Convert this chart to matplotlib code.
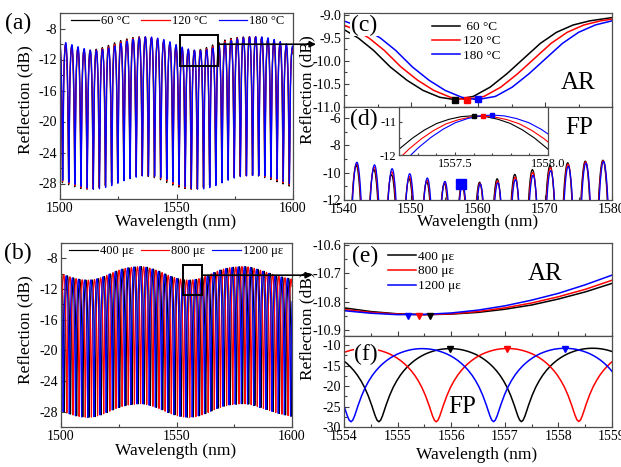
import numpy as np
import matplotlib
matplotlib.use('Agg')
import matplotlib.pyplot as plt
from matplotlib.patches import Rectangle, ConnectionPatch
from matplotlib.ticker import MultipleLocator, FormatStrFormatter

plt.rcParams['font.family'] = ['Liberation Serif', 'DejaVu Serif']
plt.rcParams['axes.unicode_minus'] = False

# ---------------- data ----------------
COLORS = ['black', 'red', 'blue']
TEMP_LABELS = ['60 °C', '120 °C', '180 °C']
STRAIN_LABELS = ['400 με', '800 με', '1200 με']

# AR envelope, 60 °C (wavelength nm, reflection dB); other temperatures shifted
ENV_T_WL = [1490, 1494, 1497, 1500, 1503, 1506, 1509, 1511, 1514, 1517, 1520, 1522,
            1525, 1528, 1531, 1533.5, 1536, 1538, 1540, 1542.1, 1544.4, 1546.9, 1549.4,
            1551.8, 1554.3, 1556.6, 1559.3, 1561.8, 1564.3, 1566.8, 1569.3, 1571.7,
            1574.2, 1576.7, 1580.0, 1582.0, 1585.0, 1588.0, 1591.0, 1594.0, 1597.0,
            1600.0, 1603.0]
ENV_T_DB = [-9.1, -9.35, -9.6, -9.9, -10.2, -10.5, -10.75, -10.84, -10.77, -10.57, -10.28,
            -10.0, -9.65, -9.38, -9.18, -9.05, -9.1, -9.2, -9.32, -9.50, -9.77, -10.13,
            -10.42, -10.64, -10.79, -10.84, -10.77, -10.57, -10.28, -9.95, -9.62, -9.38,
            -9.22, -9.13, -9.06, -9.05, -9.12, -9.35, -9.65, -9.98, -10.3, -10.6, -10.8]
ENV_T_SHIFT = [0.0, 1.6, 3.3]

# FP fringe peaks, 60 °C; other temperatures shifted
FP_T_PEAKS = [1497.11, 1499.74, 1502.37, 1505.00, 1507.63, 1510.26, 1512.89, 1515.52,
              1518.15, 1520.78, 1523.41, 1526.04, 1528.67, 1531.30, 1533.93, 1536.56,
              1539.19, 1541.82, 1544.45, 1547.08, 1549.71, 1552.34, 1554.97, 1557.60,
              1560.23, 1562.86, 1565.49, 1568.12, 1570.75, 1573.38, 1576.01, 1578.64,
              1581.27, 1583.90, 1586.53, 1589.16, 1591.79, 1594.42, 1597.05, 1599.68,
              1602.31]
FP_T_SHIFT = [0.0, 0.05, 0.10]

# AR envelope, 400 με
ENV_S_WL = [1494, 1497, 1500, 1503, 1506, 1509, 1511.8, 1514.5, 1517, 1519.5, 1522,
            1524.5, 1527, 1529.5, 1532, 1534.9, 1537.5, 1541.1, 1543.4, 1545.9, 1548.4,
            1550.8, 1553.3, 1555.6, 1558.3, 1560.8, 1563.3, 1565.8, 1568.3, 1570.7,
            1573.2, 1575.7, 1578.8, 1581.5, 1584, 1587, 1590, 1593, 1596, 1600, 1603]
ENV_S_DB = [-9.5, -9.7, -9.95, -10.3, -10.6, -10.78, -10.845, -10.77, -10.57, -10.28,
            -9.95, -9.62, -9.38, -9.22, -9.12, -9.06, -9.17, -9.50, -9.77, -10.13, -10.42,
            -10.64, -10.79, -10.845, -10.77, -10.57, -10.28, -9.95, -9.62, -9.38, -9.22,
            -9.13, -9.06, -9.12, -9.3, -9.6, -9.9, -10.2, -10.45, -10.7, -10.82]
ENV_S_SHIFT = [0.0, -0.2, -0.4]

# FP fringe peaks, 400 με; other strains shifted
FP_S_PEAKS = [1497.46, 1500.12, 1502.78, 1505.44, 1508.10, 1510.76, 1513.42, 1516.08,
              1518.74, 1521.40, 1524.06, 1526.72, 1529.38, 1532.04, 1534.70, 1537.36,
              1540.02, 1542.68, 1545.34, 1548.00, 1550.66, 1553.32, 1555.98, 1558.64,
              1561.30, 1563.96, 1566.62, 1569.28, 1571.94, 1574.60, 1577.26, 1579.92,
              1582.58, 1585.24, 1587.90, 1590.56, 1593.22, 1595.88, 1598.54, 1601.20]
FP_S_SHIFT = [0.0, 1.07, 2.14]

# fringe depth and fringe shape (fraction of half period -> fraction of depth), from (f)
FP_CONTRAST = 17.9
PROFILE_FRAC = [0, .05, .1, .15, .2, .25, .3, .35, .4, .45, .5, .55, .6, .65, .7, .75,
                .8, .85, .9, .925, .95, .975, 1.0]
PROFILE_DROP = [0, .0015, .006, .013, .024, .038, .055, .075, .100, .129, .163, .203,
                .249, .303, .366, .442, .532, .643, .776, .850, .922, .978, 1.0]

# markers
AR_T_MIN_WL = [1556.6, 1558.3, 1559.95]
AR_T_MIN_DB = [-10.84, -10.84, -10.83]
FP_T_PEAK_WL = [1557.6, 1557.65, 1557.7]
FP_T_PEAK_DB = [-10.83, -10.83, -10.79]
FP_T_MARK = (1557.5, -10.8)

# panel (e) AR curves
E_WL = [1554.0, 1554.5, 1555.0, 1555.5, 1556.0, 1556.5, 1557.0, 1557.5, 1558.0, 1558.5, 1559.0]
E_DB = [[-10.821, -10.834, -10.842, -10.845, -10.843, -10.837, -10.826, -10.811, -10.790, -10.765, -10.735],
        [-10.827, -10.837, -10.843, -10.845, -10.842, -10.834, -10.821, -10.804, -10.782, -10.756, -10.724],
        [-10.831, -10.840, -10.845, -10.844, -10.839, -10.829, -10.814, -10.794, -10.770, -10.740, -10.706]]
AR_S_MIN_WL = [1555.6, 1555.4, 1555.2]
AR_S_MIN_DB = [-10.848, -10.848, -10.848]
FP_S_PEAK_WL = [1555.98, 1557.05, 1558.12]
FP_S_PEAK_DB = [-10.95, -10.95, -10.95]

# zoom boxes
BOX_A = (1551.3, -12.84, 1567.8, -8.78)
BOX_B = (1553.0, -12.84, 1561.2, -8.86)


def fringe_curve(peaks, env_wl, env_db, env_shift):
    peaks = np.asarray(peaks, float)
    frac = np.asarray(PROFILE_FRAC)
    drop = np.asarray(PROFILE_DROP)
    tops = np.interp(peaks - env_shift, env_wl, env_db)
    xs, ys = [], []
    for i in range(len(peaks) - 1):
        p0, p1 = peaks[i], peaks[i + 1]
        half = (p1 - p0) / 2
        bottom = np.interp(p0 + half - env_shift, env_wl, env_db) - FP_CONTRAST
        t0, t1 = tops[i], tops[i + 1]
        xs.append(p0 + frac[:-1] * half)
        ys.append(t0 - drop[:-1] * (t0 - bottom))
        fr = frac[::-1][:-1]
        dr = drop[::-1][:-1]
        xs.append(p1 - fr * half)
        ys.append(t1 - dr * (t1 - bottom))
    xs.append([peaks[-1]])
    ys.append([tops[-1]])
    return np.concatenate(xs), np.concatenate(ys)


W, H = 621, 467
fig = plt.figure(figsize=(W / 100, H / 100), dpi=100)


def rect(l, t, r, b):
    return [l / W, 1 - b / H, (r - l) / W, (b - t) / H]


def fxy(x, y):
    return x / W, 1 - y / H


def style(ax, xmaj, xmin, ymaj, ymin, xlab=True, yfmt=None, xfmt=None, size=10):
    ax.xaxis.set_major_locator(MultipleLocator(xmaj))
    ax.xaxis.set_minor_locator(MultipleLocator(xmin))
    ax.yaxis.set_major_locator(MultipleLocator(ymaj))
    ax.yaxis.set_minor_locator(MultipleLocator(ymin))
    if yfmt:
        ax.yaxis.set_major_formatter(FormatStrFormatter(yfmt))
    if xfmt:
        ax.xaxis.set_major_formatter(FormatStrFormatter(xfmt))
    ax.tick_params(which='both', direction='in', top=False, right=False,
                   labelsize=size, color='0.25', width=0.8, pad=2)
    ax.tick_params(which='major', length=3.5)
    ax.tick_params(which='minor', length=2)
    if not xlab:
        ax.tick_params(labelbottom=False)
    for s in ax.spines.values():
        s.set_color('0.3')
        s.set_linewidth(0.9)


lab_box = dict(facecolor='white', edgecolor='none', pad=0.3)

temp_curves = [fringe_curve(np.asarray(FP_T_PEAKS) + FP_T_SHIFT[c], ENV_T_WL, ENV_T_DB, ENV_T_SHIFT[c])
               for c in range(3)]
strain_curves = [fringe_curve(np.asarray(FP_S_PEAKS) + FP_S_SHIFT[c], ENV_S_WL, ENV_S_DB, ENV_S_SHIFT[c])
                 for c in range(3)]

leg_kw = dict(loc='upper left', ncol=3, frameon=False, fontsize=9,
              handlelength=2.3, handletextpad=0.15,
              borderaxespad=0, borderpad=0.1)

# (a)
axa = fig.add_axes(rect(60, 13, 293, 199))
for c in range(3):
    axa.plot(*temp_curves[c], color=COLORS[c], lw=0.9, label=TEMP_LABELS[c])
axa.set_xlim(1500, 1600)
axa.set_ylim(-30, -6)
style(axa, 50, 25, 4, 2, yfmt='%d')
axa.add_patch(Rectangle((BOX_A[0], BOX_A[1]), BOX_A[2] - BOX_A[0], BOX_A[3] - BOX_A[1],
                        fill=False, ec='black', lw=1.4, zorder=5))
axa.legend(bbox_to_anchor=(0.04, 0.995), columnspacing=0.9, **leg_kw)

# (c)
axc = fig.add_axes(rect(344, 13, 612, 107))
for c in range(3):
    axc.plot(np.asarray(ENV_T_WL) + ENV_T_SHIFT[c], ENV_T_DB, color=COLORS[c], lw=1.1,
             label=(' ' + TEMP_LABELS[c]) if c == 0 else TEMP_LABELS[c])
    axc.plot(AR_T_MIN_WL[c], AR_T_MIN_DB[c], 's', color=COLORS[c], ms=4.5, zorder=4)
axc.set_xlim(1540, 1580)
axc.set_ylim(-11.0, -8.96)
style(axc, 10, 5, 0.5, 0.25, xlab=False, yfmt='%.1f')
axc.legend(loc='upper left', bbox_to_anchor=(0.325, 0.93), frameon=False, fontsize=9.5,
           handlelength=2.1, handletextpad=0.25, labelspacing=0.15,
           borderaxespad=0, borderpad=0.1)

# (d)
axd = fig.add_axes(rect(344, 107, 612, 200))
for c in range(3):
    axd.plot(*temp_curves[c], color=COLORS[c], lw=0.9)
axd.plot(*FP_T_MARK, 's', color='blue', ms=6.5, zorder=4)
axd.set_xlim(1540, 1580)
axd.set_ylim(-12, -5.2)
style(axd, 10, 5, 2, 1, yfmt='%d', xfmt='%d')

# inset of (d)
axi = fig.add_axes(rect(399, 107, 548, 155))
for c in range(3):
    axi.plot(*temp_curves[c], color=COLORS[c], lw=0.8)
    axi.plot(FP_T_PEAK_WL[c], FP_T_PEAK_DB[c], 's', color=COLORS[c], ms=3, zorder=4)
axi.set_xlim(1557.2, 1558.0)
axi.set_ylim(-12, -10.55)
style(axi, 0.5, 0.1, 1, 0.5, yfmt='%d', xfmt='%.1f', size=9)
axi.tick_params(which='major', length=2.5)
axi.tick_params(which='minor', length=1.5)

# (b)
axb = fig.add_axes(rect(61, 243, 292, 427))
for c in range(3):
    axb.plot(*strain_curves[c], color=COLORS[c], lw=0.85, label=STRAIN_LABELS[c])
axb.set_xlim(1500, 1600)
axb.set_ylim(-30, -6)
style(axb, 50, 25, 4, 2, yfmt='%d')
axb.add_patch(Rectangle((BOX_B[0], BOX_B[1]), BOX_B[2] - BOX_B[0], BOX_B[3] - BOX_B[1],
                        fill=False, ec='black', lw=1.4, zorder=5))
axb.legend(bbox_to_anchor=(0.03, 0.995), columnspacing=0.55, **leg_kw)

# (e)
axe = fig.add_axes(rect(344, 243, 612, 336))
for c in range(3):
    axe.plot(E_WL, E_DB[c], color=COLORS[c], lw=1.1, label=STRAIN_LABELS[c])
    axe.plot(AR_S_MIN_WL[c], AR_S_MIN_DB[c], 'v', color=COLORS[c], ms=5, zorder=4)
axe.set_xlim(1554, 1559)
axe.set_ylim(-10.92, -10.593)
style(axe, 1, 0.5, 0.1, 0.05, xlab=False, yfmt='%.1f')
axe.legend(loc='upper left', bbox_to_anchor=(0.16, 0.935), frameon=False, fontsize=9.5,
           handlelength=2.1, handletextpad=0.15, labelspacing=0.2,
           borderaxespad=0, borderpad=0.1)

# (f)
axf = fig.add_axes(rect(344, 336, 612, 427))
for c in range(3):
    axf.plot(*strain_curves[c], color=COLORS[c], lw=1.1)
    axf.plot(FP_S_PEAK_WL[c], FP_S_PEAK_DB[c], 'v', color=COLORS[c], ms=5, zorder=4)
axf.set_xlim(1554, 1559)
axf.set_ylim(-30, -7.75)
style(axf, 1, 0.5, 5, 2.5, yfmt='%d', xfmt='%d')

# ---------- texts ----------
for s, (x, y) in {'(a)': (18, 23), '(b)': (18, 253)}.items():
    fig.text(*fxy(x, y), s, fontsize=17, ha='center', va='center')
for s, (x, y) in {'(c)': (364, 25), '(d)': (364, 119), '(e)': (365, 256), '(f)': (366, 354)}.items():
    fig.text(*fxy(x, y), s, fontsize=17, ha='center', va='center', bbox=lab_box, zorder=6)
for s, (x, y) in {'AR': (578, 83), 'FP': (579, 128)}.items():
    fig.text(*fxy(x, y), s, fontsize=18, ha='center', va='center', zorder=6)
fig.text(*fxy(545, 274), 'AR', fontsize=18, ha='center', va='center', zorder=6)
fig.text(*fxy(462, 407), 'FP', fontsize=18, ha='center', va='center', zorder=6)

for (x, y) in [(176, 222), (478, 222), (176, 451), (477, 455)]:
    fig.text(*fxy(x, y), 'Wavelength (nm)', fontsize=12.5, ha='center', va='center')
for (x, y) in [(25, 100), (307, 90), (25, 330), (307, 326)]:
    fig.text(*fxy(x, y), 'Reflection (dB)', fontsize=12.5, ha='center', va='center',
             rotation=90)

# ---------- arrows ----------
for ax, box, yy, xend in [(axa, BOX_A, -10.03, 316), (axb, BOX_B, -10.2, 312)]:
    yfig = ax.transData.transform((box[2], yy))
    yfig = fig.transFigure.inverted().transform(yfig)
    con = ConnectionPatch(xyA=(box[2], yy), coordsA=ax.transData,
                          xyB=(xend / W, yfig[1]), coordsB=fig.transFigure,
                          arrowstyle='-|>', mutation_scale=9, lw=1.2, color='black',
                          zorder=10)
    fig.add_artist(con)

fig.savefig('out.png', dpi=100)
